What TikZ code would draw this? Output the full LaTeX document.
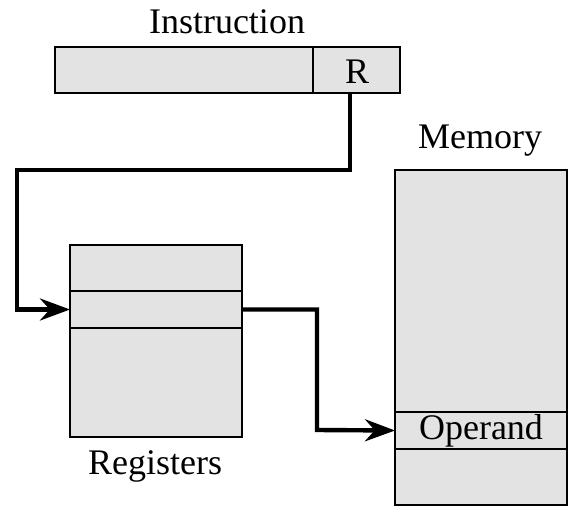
\documentclass[tikz,border=0pt]{standalone}
\usepackage{fontspec}
\setmainfont{Liberation Serif}
\usepackage{xcolor}
\usetikzlibrary{arrows.meta}

\definecolor{boxgray}{HTML}{E3E3E3}

\begin{document}
\begin{tikzpicture}[
            x = 0.5pt, y = -0.5pt, % one unit per pixel
            > = {Stealth[length=15pt, width=11pt]}, % arrow head style
            field/.style = {shape=rectangle, draw=black, fill=boxgray,
                            line width=1pt, inner sep=0pt, outer sep=0pt,
                            anchor=north west},
            link/.style = {->, line width=2.2pt},
            every node/.style = {font=\fontsize{18}{20}\selectfont}
        ]
\useasboundingbox (0,0) rectangle (577,518);

% instruction word
\node[] (instr) at (227,22) {Instruction};
\node[field, minimum width=129pt, minimum height=23pt] (opfield) at (55,47) {};
\node[field, minimum width=43.5pt, minimum height=23pt] (rfield) at (313,47) {};
\node[] (rtext) at (357,72) {R};

% registers
\node[field, minimum width=86pt, minimum height=23pt] (reg1) at (70,245) {};
\node[field, minimum width=86pt, minimum height=18.5pt] (reg2) at (70,291) {};
\node[field, minimum width=86pt, minimum height=54.5pt] (reg3) at (70,328) {};
\node[] (regs) at (155,466) {Registers};

% memory
\node[] (mem) at (480,141) {Memory};
\node[field, minimum width=86pt, minimum height=121pt] (mem1) at (395,170) {};
\node[field, minimum width=86pt, minimum height=18.5pt] (opnd) at (395,412) {Operand};
\node[field, minimum width=86pt, minimum height=28pt] (mem3) at (395,449) {};

\coordinate (bend1) at (350,170);
\coordinate (turn1) at (17,170);
\coordinate (turn2) at (317,430);

 \draw [link] (rfield.south -| bend1) |- (turn1) |- (reg2.west);
 \draw [link] (reg2.east) -| (turn2) -- (opnd.west);
\end{tikzpicture}
\end{document}
